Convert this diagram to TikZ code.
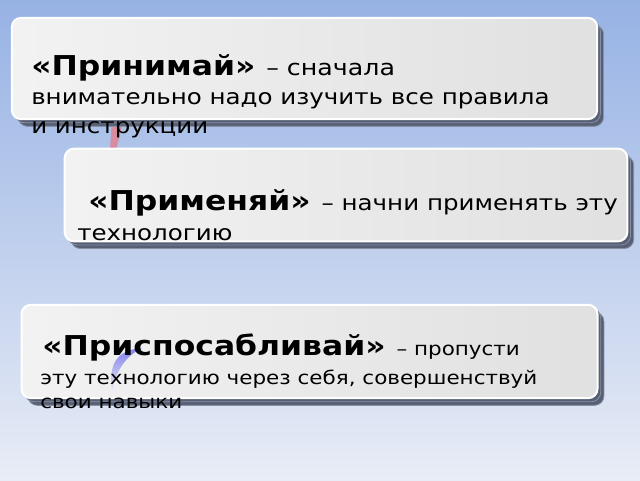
\documentclass[tikz,border=0pt]{standalone}
\usepackage{fontspec}
\setmainfont[FakeStretch=1.15]{DejaVu Sans}
\usetikzlibrary{shadows}
\definecolor{skytop}{RGB}{150,178,228}
\definecolor{skybottom}{RGB}{232,236,246}
\definecolor{slate}{RGB}{86,95,116}
\definecolor{shadowline}{RGB}{135,143,162}
\definecolor{tailred}{RGB}{216,140,160}
\definecolor{tailblue}{RGB}{110,110,240}

\begin{document}
\begin{tikzpicture}[x=0.75pt,y=-0.75pt,
        card/.style={draw=white,line width=1.5pt,rectangle,rounded corners=7pt,left color=black!5,right color=black!12,double copy shadow={shadow xshift=2.4pt,shadow yshift=-2.7pt,fill=slate,draw=shadowline,line width=0.6pt}},
        head/.style={anchor=base west,inner sep=0pt,font=\fontsize{20.5}{24}\selectfont\bfseries},
        body/.style={anchor=base west,inner sep=0pt,font=\fontsize{16}{19}\selectfont},
        small/.style={anchor=base west,inner sep=0pt,font=\fontsize{14}{17}\selectfont}
      ]
      \shade[top color=skytop,bottom color=skybottom] (0,0) rectangle (640,480);
      \fill[tailred] (112,118) -- (124,118) -- (116,150) -- (110,150) -- cycle;
      \node[card,minimum width=439pt,minimum height=76pt] (accept) at (304.5,68.5) {};
      \node[card,minimum width=422pt,minimum height=69.5pt] (apply) at (346,195) {};
      \node[card,minimum width=432pt,minimum height=70pt] (adapt) at (309.5,351.5) {};
      \shade[top color=tailblue,bottom color=tailblue!15!black!8,fill opacity=0.85] (112,392) .. controls (108,362) and (118,350) .. (142,348) .. controls (126,356) and (116,370) .. cycle;
      \node[head] (accept1) at (31,75) {«Принимай» {\mdseries\fontsize{16.5}{19}\selectfont– сначала}};
      \node[body] (accept2) at (31,104) {внимательно надо изучить все правила};
      \node[body] (accept3) at (31,133) {и инструкции};
      \node[head] (apply1) at (88,210) {«Применяй» {\mdseries\fontsize{16}{19}\selectfont– начни применять эту}};
      \node[body] (apply2) at (77,240) {технологию};
      \node[head] (adapt1) at (42,355) {«Приспосабливай» {\mdseries\fontsize{14}{17}\selectfont– пропусти}};
      \node[small] (adapt2) at (40,384) {эту технологию через себя, совершенствуй};
      \node[small] (adapt3) at (40,408) {свои навыки};
    \end{tikzpicture}
\end{document}
